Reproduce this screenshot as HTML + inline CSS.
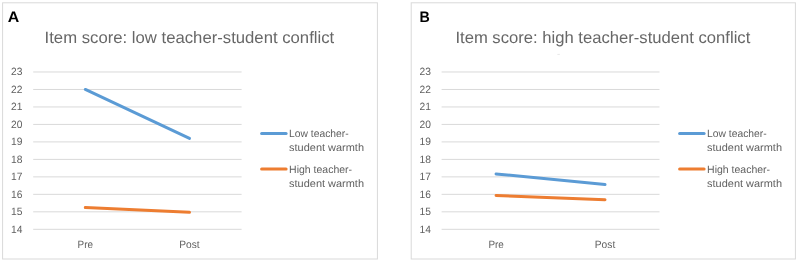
<!DOCTYPE html>
<html lang="en">
<head>
<meta charset="utf-8">
<title>Item score charts</title>
<style>
html,body{margin:0;padding:0;background:#fff;}
body{width:800px;height:262px;overflow:hidden;}
svg{display:block;will-change:transform;text-rendering:geometricPrecision;font-family:"Liberation Sans",Arial,Helvetica,sans-serif;}
</style>
</head>
<body>
<svg width="800" height="262" viewBox="0 0 800 262">
<rect x="0" y="0" width="800" height="262" fill="#fff"/>
<g>
<rect x="2.6" y="2.8" width="374.8" height="256.2" fill="#fff" stroke="#d9d9d9" stroke-width="1"/>
<text x="7.8" y="21.7" font-size="15.1" font-weight="700" fill="#000" textLength="11.5" lengthAdjust="spacingAndGlyphs">A</text>
<text x="44.6" y="43.0" font-size="16.5" fill="#676767" textLength="289.6" lengthAdjust="spacingAndGlyphs">Item score: low teacher-student conflict</text>
<line x1="33.2" x2="241.6" y1="229.30" y2="229.30" stroke="#d9d9d9" stroke-width="1"/>
<text x="11.1" y="232.65" font-size="10.6" fill="#606060" textLength="11.4" lengthAdjust="spacingAndGlyphs">14</text>
<line x1="33.2" x2="241.6" y1="211.82" y2="211.82" stroke="#d9d9d9" stroke-width="1"/>
<text x="11.1" y="215.17" font-size="10.6" fill="#606060" textLength="11.4" lengthAdjust="spacingAndGlyphs">15</text>
<line x1="33.2" x2="241.6" y1="194.34" y2="194.34" stroke="#d9d9d9" stroke-width="1"/>
<text x="11.1" y="197.69" font-size="10.6" fill="#606060" textLength="11.4" lengthAdjust="spacingAndGlyphs">16</text>
<line x1="33.2" x2="241.6" y1="176.86" y2="176.86" stroke="#d9d9d9" stroke-width="1"/>
<text x="11.1" y="180.21" font-size="10.6" fill="#606060" textLength="11.4" lengthAdjust="spacingAndGlyphs">17</text>
<line x1="33.2" x2="241.6" y1="159.38" y2="159.38" stroke="#d9d9d9" stroke-width="1"/>
<text x="11.1" y="162.73" font-size="10.6" fill="#606060" textLength="11.4" lengthAdjust="spacingAndGlyphs">18</text>
<line x1="33.2" x2="241.6" y1="141.90" y2="141.90" stroke="#d9d9d9" stroke-width="1"/>
<text x="11.1" y="145.25" font-size="10.6" fill="#606060" textLength="11.4" lengthAdjust="spacingAndGlyphs">19</text>
<line x1="33.2" x2="241.6" y1="124.42" y2="124.42" stroke="#d9d9d9" stroke-width="1"/>
<text x="11.1" y="127.77" font-size="10.6" fill="#606060" textLength="11.4" lengthAdjust="spacingAndGlyphs">20</text>
<line x1="33.2" x2="241.6" y1="106.94" y2="106.94" stroke="#d9d9d9" stroke-width="1"/>
<text x="11.1" y="110.29" font-size="10.6" fill="#606060" textLength="11.4" lengthAdjust="spacingAndGlyphs">21</text>
<line x1="33.2" x2="241.6" y1="89.46" y2="89.46" stroke="#d9d9d9" stroke-width="1"/>
<text x="11.1" y="92.81" font-size="10.6" fill="#606060" textLength="11.4" lengthAdjust="spacingAndGlyphs">22</text>
<line x1="33.2" x2="241.6" y1="71.98" y2="71.98" stroke="#d9d9d9" stroke-width="1"/>
<text x="11.1" y="75.33" font-size="10.6" fill="#606060" textLength="11.4" lengthAdjust="spacingAndGlyphs">23</text>
<text x="77.60" y="247.9" font-size="10.6" fill="#606060" textLength="15.4" lengthAdjust="spacingAndGlyphs">Pre</text>
<text x="179.30" y="247.9" font-size="10.6" fill="#606060" textLength="20.4" lengthAdjust="spacingAndGlyphs">Post</text>
<line x1="85.30" y1="89.46" x2="189.50" y2="138.40" stroke="#5b9bd5" stroke-width="3" stroke-linecap="round"/>
<line x1="85.30" y1="207.45" x2="189.50" y2="212.34" stroke="#ed7d31" stroke-width="3" stroke-linecap="round"/>
<line x1="261.60" x2="286.10" y1="133.6" y2="133.6" stroke="#5b9bd5" stroke-width="3" stroke-linecap="round"/>
<line x1="261.60" x2="286.10" y1="169" y2="169" stroke="#ed7d31" stroke-width="3" stroke-linecap="round"/>
<text x="289.10" y="137.1" font-size="10.6" fill="#606060" textLength="59.6" lengthAdjust="spacingAndGlyphs">Low teacher-</text>
<text x="289.10" y="151.2" font-size="10.6" fill="#606060" textLength="74.9" lengthAdjust="spacingAndGlyphs">student warmth</text>
<text x="289.10" y="172.6" font-size="10.6" fill="#606060" textLength="63" lengthAdjust="spacingAndGlyphs">High teacher-</text>
<text x="289.10" y="186.8" font-size="10.6" fill="#606060" textLength="74.9" lengthAdjust="spacingAndGlyphs">student warmth</text>
</g>
<g>
<rect x="411.2" y="2.8" width="384.2" height="256.2" fill="#fff" stroke="#d9d9d9" stroke-width="1"/>
<text x="419.4" y="21.7" font-size="15.1" font-weight="700" fill="#000" textLength="10.3" lengthAdjust="spacingAndGlyphs">B</text>
<text x="455.4" y="43.0" font-size="16.5" fill="#676767" textLength="294.9" lengthAdjust="spacingAndGlyphs">Item score: high teacher-student conflict</text>
<line x1="441.6" x2="659.5" y1="229.30" y2="229.30" stroke="#d9d9d9" stroke-width="1"/>
<text x="419.5" y="232.65" font-size="10.6" fill="#606060" textLength="11.4" lengthAdjust="spacingAndGlyphs">14</text>
<line x1="441.6" x2="659.5" y1="211.82" y2="211.82" stroke="#d9d9d9" stroke-width="1"/>
<text x="419.5" y="215.17" font-size="10.6" fill="#606060" textLength="11.4" lengthAdjust="spacingAndGlyphs">15</text>
<line x1="441.6" x2="659.5" y1="194.34" y2="194.34" stroke="#d9d9d9" stroke-width="1"/>
<text x="419.5" y="197.69" font-size="10.6" fill="#606060" textLength="11.4" lengthAdjust="spacingAndGlyphs">16</text>
<line x1="441.6" x2="659.5" y1="176.86" y2="176.86" stroke="#d9d9d9" stroke-width="1"/>
<text x="419.5" y="180.21" font-size="10.6" fill="#606060" textLength="11.4" lengthAdjust="spacingAndGlyphs">17</text>
<line x1="441.6" x2="659.5" y1="159.38" y2="159.38" stroke="#d9d9d9" stroke-width="1"/>
<text x="419.5" y="162.73" font-size="10.6" fill="#606060" textLength="11.4" lengthAdjust="spacingAndGlyphs">18</text>
<line x1="441.6" x2="659.5" y1="141.90" y2="141.90" stroke="#d9d9d9" stroke-width="1"/>
<text x="419.5" y="145.25" font-size="10.6" fill="#606060" textLength="11.4" lengthAdjust="spacingAndGlyphs">19</text>
<line x1="441.6" x2="659.5" y1="124.42" y2="124.42" stroke="#d9d9d9" stroke-width="1"/>
<text x="419.5" y="127.77" font-size="10.6" fill="#606060" textLength="11.4" lengthAdjust="spacingAndGlyphs">20</text>
<line x1="441.6" x2="659.5" y1="106.94" y2="106.94" stroke="#d9d9d9" stroke-width="1"/>
<text x="419.5" y="110.29" font-size="10.6" fill="#606060" textLength="11.4" lengthAdjust="spacingAndGlyphs">21</text>
<line x1="441.6" x2="659.5" y1="89.46" y2="89.46" stroke="#d9d9d9" stroke-width="1"/>
<text x="419.5" y="92.81" font-size="10.6" fill="#606060" textLength="11.4" lengthAdjust="spacingAndGlyphs">22</text>
<line x1="441.6" x2="659.5" y1="71.98" y2="71.98" stroke="#d9d9d9" stroke-width="1"/>
<text x="419.5" y="75.33" font-size="10.6" fill="#606060" textLength="11.4" lengthAdjust="spacingAndGlyphs">23</text>
<text x="488.38" y="247.9" font-size="10.6" fill="#606060" textLength="15.4" lengthAdjust="spacingAndGlyphs">Pre</text>
<text x="594.82" y="247.9" font-size="10.6" fill="#606060" textLength="20.4" lengthAdjust="spacingAndGlyphs">Post</text>
<line x1="496.08" y1="173.89" x2="605.02" y2="184.55" stroke="#5b9bd5" stroke-width="3" stroke-linecap="round"/>
<line x1="496.08" y1="195.56" x2="605.02" y2="199.76" stroke="#ed7d31" stroke-width="3" stroke-linecap="round"/>
<line x1="679.60" x2="704.10" y1="133.6" y2="133.6" stroke="#5b9bd5" stroke-width="3" stroke-linecap="round"/>
<line x1="679.60" x2="704.10" y1="169" y2="169" stroke="#ed7d31" stroke-width="3" stroke-linecap="round"/>
<text x="707.10" y="137.1" font-size="10.6" fill="#606060" textLength="59.6" lengthAdjust="spacingAndGlyphs">Low teacher-</text>
<text x="707.10" y="151.2" font-size="10.6" fill="#606060" textLength="74.9" lengthAdjust="spacingAndGlyphs">student warmth</text>
<text x="707.10" y="172.6" font-size="10.6" fill="#606060" textLength="63" lengthAdjust="spacingAndGlyphs">High teacher-</text>
<text x="707.10" y="186.8" font-size="10.6" fill="#606060" textLength="74.9" lengthAdjust="spacingAndGlyphs">student warmth</text>
<line x1="557.4" x2="559.8" y1="54.4" y2="54.4" stroke="#e8e8e8" stroke-width="1"/>
</g>
</svg>
</body>
</html>
